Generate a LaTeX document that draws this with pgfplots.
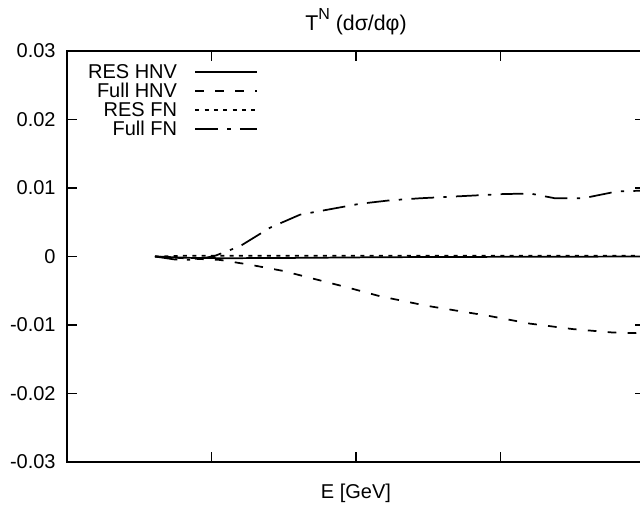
\documentclass[border=0pt]{standalone}
\usepackage{fontspec}
\setmainfont{Liberation Sans}
\usepackage{pgfplots}
\pgfplotsset{compat=1.18}
\begin{document}
\begin{tikzpicture}[font=\fontsize{15}{17}\selectfont]
\begin{axis}[name=ax, scale only axis, width=433.5pt, height=308.25pt,
  xmin=0, xmax=4, ymin=-0.03, ymax=0.03,
  scaled y ticks=false,
  xtick={1,2,3}, xticklabels={},
  ytick={-0.03,-0.02,-0.01,0,0.01,0.02,0.03},
  yticklabels={-0.03,-0.02,-0.01,0,0.01,0.02,0.03},
  yticklabel style={xshift=-5pt, font=\fontsize{15}{17}\selectfont},
  axis line style={line width=1.3pt},
  every tick/.style={black, line width=0.8pt},
  major tick length=7.5pt,
  xlabel={E [GeV]},
  xlabel style={at={(axis description cs:0.5,0)}, anchor=center, yshift=-23.5pt},
  title={T\raisebox{0.5em}{\fontsize{12}{13}\selectfont N} (dσ/dφ)},
  title style={at={(axis description cs:0.5,1)}, anchor=center, yshift=16pt,
    font=\fontsize{16}{18}\selectfont},
  legend plot pos=right,
  legend cell align=right,
  legend image code/.code={\path (0pt,0pt); \draw[#1] (12pt,0pt) -- (58.5pt,0pt);},
  legend style={draw=none, fill=none, at={(0.338,0.978)}, anchor=north east,
    row sep=0pt, nodes={inner sep=1pt}},
  every axis plot/.append style={line width=1.3pt, black},
]
\addplot[solid] coordinates {
(0.609,0) (0.85,-0.0002) (1.1,-0.00025) (1.6,-0.0002) (2.2,-0.0001) (3.0,-0.00005) (4.1,0)
};
\addlegendentry{RES HNV}
\addplot[dash pattern=on 6.5pt off 8.5pt] coordinates {
(0.609,0) (0.851,-0.0003) (1.059,-0.0005) (1.266,-0.0012) (1.495,-0.0021) (1.716,-0.0033)
(1.938,-0.0045) (2.166,-0.0058) (2.491,-0.0072) (2.927,-0.0087) (3.204,-0.0098)
(3.502,-0.0106) (3.779,-0.0111) (3.965,-0.0112) (4.1,-0.0113)
};
\addlegendentry{Full HNV}
\addplot[dash pattern=on 3pt off 4pt] coordinates {
(0.609,0) (0.8,0.0001) (1.5,0.0001) (2.5,0.0001) (4.1,0.0001)
};
\addlegendentry{RES FN}
\addplot[dash pattern=on 17pt off 7pt on 2.5pt off 7pt] coordinates {
(0.609,0) (0.747,-0.00044) (0.886,-0.0005) (1.024,0.0001) (1.197,0.0015) (1.405,0.0042)
(1.612,0.0061) (1.820,0.0069) (2.028,0.0077) (2.235,0.0082) (2.443,0.0085) (2.720,0.0088)
(2.997,0.0091) (3.204,0.0092) (3.377,0.0085) (3.571,0.0085) (3.689,0.0090) (3.806,0.0095)
(3.965,0.0096) (4.1,0.0097)
};
\addlegendentry{Full FN}
\end{axis}
\pgfresetboundingbox
\path[use as bounding box] ([xshift=-50.25pt,yshift=-34.5pt]ax.south west) rectangle ([xshift=429.75pt,yshift=346.5pt]ax.south west);
\end{tikzpicture}
\end{document}
